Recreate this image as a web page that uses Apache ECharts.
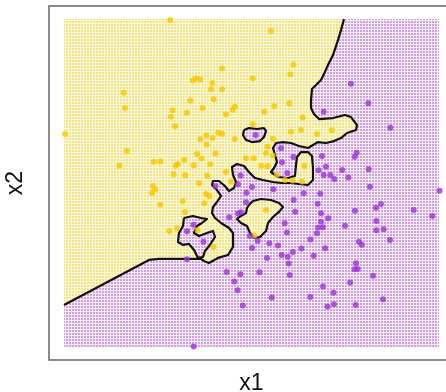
<!DOCTYPE html>
<html>
<head>
<meta charset="utf-8">
<script src="https://cdn.jsdelivr.net/npm/echarts@6/dist/echarts.min.js"></script>
<style>
  html, body { margin: 0; padding: 0; background: #fff; overflow: hidden; }
  #chart { width: 470px; height: 392px; }
</style>
</head>
<body>
<div id="chart"></div>
<script>
// grid of the classifier (x1, x2 extent)
const X1_RANGE = [-2.6, 4.2];
const X2_RANGE = [-2.0, 2.9];

// training points, class 0 (gold)
const CLASS0 = [
  [-0.673, 2.885], [0.265, 2.163], [-0.266, 1.984], [-0.207, 2.014], [-0.129, 1.999],
  [0.089, 1.944], [0.065, 1.850], [0.265, 1.850], [-1.518, 1.799], [0.114, 1.702],
  [-0.310, 1.678], [-1.494, 1.570], [-0.085, 1.570], [-0.629, 1.536], [-0.660, 1.440],
  [-0.373, 1.500], [0.501, 1.593], [0.461, 1.544], [0.337, 1.478], [-0.587, 1.299],
  [-2.582, 1.182], [0.201, 1.201], [0.265, 1.186], [-0.129, 1.104], [-0.020, 1.160],
  [0.096, 1.122], [-0.013, 1.025], [0.497, 1.107], [-1.458, 0.928], [-0.188, 0.883],
  [0.147, 0.891], [-1.597, 0.708], [-0.972, 0.767], [-0.854, 0.771], [-0.419, 0.794],
  [-0.538, 0.734], [-0.575, 0.708], [-0.246, 0.714], [-0.107, 0.816], [0.053, 0.729],
  [0.700, 0.819], [-0.611, 0.581], [-0.401, 0.565], [-0.003, 0.559], [0.337, 0.619],
  [1.153, 2.721], [1.561, 2.217], [1.503, 2.075], [0.822, 2.016], [1.213, 1.600],
  [1.485, 1.641], [1.032, 1.515], [1.728, 1.431], [0.822, 1.328], [1.697, 1.242],
  [1.516, 1.215], [1.987, 1.182], [2.254, 1.237], [1.190, 1.112], [1.090, 0.992],
  [1.063, 0.898], [1.184, 0.861], [0.840, 0.819], [0.978, 0.708], [1.093, 0.701],
  [1.757, 0.704], [1.262, 0.570], [1.407, 0.495], [1.543, 0.487], [1.715, 0.472],
  [-0.992, 0.405], [-0.945, 0.357], [-1.004, 0.301], [-0.152, 0.446], [-0.025, 0.286],
  [0.035, 0.253], [-0.448, 0.181], [-0.056, 0.147], [-0.854, 0.124], [-0.406, 0.017],
  [-0.691, -0.267], [-0.551, -0.227], [-0.179, -0.252], [0.111, -0.502], [1.063, 0.047],
  [0.851, -0.334], [0.428, 0.469]
];

// training points, class 1 (purple)
const CLASS1 = [
  [2.604, 1.933], [2.918, 1.641], [2.109, 1.515], [3.317, 1.276], [0.876, 1.167],
  [1.335, 0.968], [1.353, 0.759], [1.558, 0.838], [2.078, 0.853], [2.707, 0.903],
  [2.671, 0.843], [2.151, 0.694], [2.015, 0.640], [2.444, 0.644], [2.925, 0.655],
  [2.555, 0.532], [1.449, 0.599], [2.109, 0.570], [2.229, 0.570], [2.301, 0.510],
  [4.210, 0.335], [3.741, 0.047], [4.078, -0.043], [2.948, 0.395], [2.047, 0.289],
  [1.746, 0.296], [1.565, 0.196], [1.195, 0.356], [0.700, 0.162], [0.809, 0.390],
  [3.057, 0.081], [3.148, 0.136], [2.676, 0.036], [1.592, 0.021], [2.000, 0.141],
  [2.060, -0.003], [2.192, -0.077], [2.060, -0.128], [1.402, -0.152], [3.063, -0.118],
  [3.197, -0.242], [3.063, -0.257], [2.009, -0.215], [2.096, -0.212], [1.987, -0.301],
  [2.495, -0.189], [1.443, -0.289], [3.311, -0.402], [2.749, -0.427], [2.798, -0.472],
  [0.773, -0.342], [0.912, -0.412], [1.870, -0.394], [1.123, -0.451], [1.280, -0.484],
  [0.809, -0.521], [1.706, -0.529], [2.136, -0.525], [1.549, -0.581], [1.347, -0.626],
  [1.456, -0.651], [1.928, -0.636], [1.081, -0.670], [1.474, -0.753], [2.695, -0.750],
  [2.725, -0.835], [2.667, -0.839], [0.945, -0.884], [1.494, -0.924], [3.003, -0.935],
  [2.589, -1.039], [2.096, -1.099], [2.287, -1.189], [1.168, -1.263], [1.866, -1.253],
  [3.184, -1.287], [0.642, -1.383], [2.296, -1.362], [2.178, -1.395], [2.689, -1.373],
  [0.147, 0.401], [0.602, 0.562], [0.555, 0.432], [0.709, 0.305], [0.397, -0.061],
  [0.555, -0.006], [0.609, 0.014], [-0.252, -0.173], [-0.370, -0.270], [-0.071, -0.428],
  [-0.370, -0.690], [0.350, -0.880], [0.597, -0.914], [0.488, -1.024], [0.546, -1.153],
  [-0.248, -1.996]
];

// decision boundary, from the top edge down to the left edge
const MAIN_BOUNDARY = [
  [2.477, 2.900], [2.423, 2.736], [2.368, 2.586], [2.278, 2.362], [2.187, 2.213],
  [2.114, 2.078], [2.060, 1.989], [1.897, 1.854], [1.879, 1.690], [1.879, 1.570],
  [1.933, 1.481], [2.024, 1.406], [2.278, 1.421], [2.495, 1.466], [2.604, 1.436],
  [2.713, 1.316], [2.695, 1.242], [2.531, 1.197], [2.423, 1.122], [2.296, 1.077],
  [2.151, 1.048], [2.006, 1.062], [1.824, 0.973], [1.661, 1.003], [1.516, 1.048],
  [1.371, 1.062], [1.244, 1.048], [1.190, 0.973], [1.226, 0.868], [1.262, 0.764],
  [1.208, 0.674], [1.153, 0.614], [1.280, 0.540], [1.462, 0.525], [1.588, 0.555],
  [1.607, 0.719], [1.625, 0.838], [1.697, 0.913], [1.824, 0.913], [1.897, 0.853],
  [1.915, 0.674], [1.915, 0.495], [1.824, 0.420], [1.661, 0.435], [1.516, 0.450],
  [1.335, 0.450], [1.190, 0.465], [1.008, 0.495], [0.863, 0.525], [0.754, 0.614],
  [0.664, 0.704], [0.537, 0.734], [0.446, 0.689], [0.464, 0.570], [0.519, 0.465],
  [0.482, 0.375], [0.392, 0.330], [0.319, 0.405], [0.210, 0.480], [0.102, 0.480],
  [0.084, 0.420], [0.174, 0.345], [0.247, 0.256], [0.174, 0.166], [0.102, 0.091],
  [0.084, 0.002], [0.138, -0.073], [0.247, -0.148], [0.392, -0.222], [0.464, -0.297],
  [0.464, -0.506], [0.374, -0.626], [0.192, -0.670], [0.029, -0.745], [-0.062, -0.715],
  [-0.116, -0.685], [-0.877, -0.685], [-1.059, -0.700], [-2.600, -1.373]
];

// purple pockets inside the gold region
const ISLAND_P1 = [
  [0.664, 1.242], [0.754, 1.272], [0.899, 1.257], [1.026, 1.272], [1.063, 1.227],
  [1.026, 1.137], [0.954, 1.077], [0.809, 1.062], [0.700, 1.092], [0.646, 1.167]
];
const ISLAND_P2 = [
  [-0.424, -0.073], [-0.261, -0.043], [-0.116, -0.073], [-0.007, -0.088], [-0.098, -0.148],
  [-0.188, -0.192], [-0.243, -0.297], [-0.152, -0.342], [-0.007, -0.297], [0.102, -0.267],
  [0.138, -0.357], [0.047, -0.476], [-0.043, -0.566], [-0.080, -0.656], [-0.170, -0.670],
  [-0.243, -0.551], [-0.333, -0.461], [-0.442, -0.476], [-0.533, -0.431], [-0.515, -0.297],
  [-0.442, -0.192]
];

// gold pocket inside the purple region
const ISLAND_Y1 = [
  [0.754, 0.121], [0.827, 0.181], [0.972, 0.211], [1.153, 0.196], [1.298, 0.151],
  [1.371, 0.091], [1.298, 0.017], [1.190, -0.058], [1.099, -0.148], [1.063, -0.267],
  [0.954, -0.357], [0.845, -0.372], [0.773, -0.297], [0.718, -0.192], [0.609, -0.148],
  [0.537, -0.088], [0.609, -0.043], [0.700, 0.002], [0.718, 0.076]
];

const X_LABEL = "x1";
const Y_LABEL = "x2";

function dotPattern(dot, gap) {
  const c = document.createElement("canvas");
  c.width = 3;
  c.height = 3;
  const ctx = c.getContext("2d");
  ctx.fillStyle = gap;
  ctx.fillRect(0, 0, 3, 3);
  ctx.fillStyle = dot;
  ctx.fillRect(0, 0, 2, 2);
  return { image: c, repeat: "repeat" };
}

const GOLD_FILL = dotPattern("#f6e37c", "#fffbe2");
const PURPLE_FILL = dotPattern("#d39fe4", "#f8eefb");

function regionSeries(points, fill, z) {
  return {
    type: "custom",
    coordinateSystem: "cartesian2d",
    data: [[points[0][0], points[0][1]]],
    silent: true,
    z: z,
    renderItem: (params, api) => ({
      type: "polygon",
      shape: { points: points.map((p) => api.coord(p)) },
      style: { fill: fill, stroke: null },
    }),
  };
}

function lineSeries(points, closed) {
  return {
    type: "line",
    data: closed ? points.concat([points[0]]) : points,
    symbol: "none",
    silent: true,
    z: 5,
    lineStyle: { color: "#111", width: 2.2, join: "round" },
  };
}

const pad1 = (X1_RANGE[1] - X1_RANGE[0]) * 0.04;
const pad2 = (X2_RANGE[1] - X2_RANGE[0]) * 0.04;

const fullGrid = [
  [X1_RANGE[0], X2_RANGE[1]], [X1_RANGE[1], X2_RANGE[1]],
  [X1_RANGE[1], X2_RANGE[0]], [X1_RANGE[0], X2_RANGE[0]]
];
const goldRegion = [[X1_RANGE[0], X2_RANGE[1]]].concat(MAIN_BOUNDARY);

const chart = echarts.init(document.getElementById("chart"));

chart.setOption({
  animation: false,
  grid: {
    show: true,
    left: 49,
    top: 6,
    width: 405,
    height: 354,
    containLabel: false,
    outerBoundsMode: "none",
    borderColor: "#666",
    borderWidth: 1.5,
    backgroundColor: "transparent",
  },
  xAxis: {
    type: "value",
    min: X1_RANGE[0] - pad1,
    max: X1_RANGE[1] + pad1,
    name: X_LABEL,
    nameLocation: "middle",
    nameGap: 12,
    nameTextStyle: { fontSize: 23, color: "#111", fontFamily: "Liberation Sans" },
    axisLine: { show: false },
    axisTick: { show: false },
    axisLabel: { show: false },
    splitLine: { show: false },
  },
  yAxis: {
    type: "value",
    min: X2_RANGE[0] - pad2,
    max: X2_RANGE[1] + pad2,
    name: Y_LABEL,
    nameLocation: "middle",
    nameGap: 22,
    nameTextStyle: { fontSize: 23, color: "#111", fontFamily: "Liberation Sans" },
    axisLine: { show: false },
    axisTick: { show: false },
    axisLabel: { show: false },
    splitLine: { show: false },
  },
  series: [
    regionSeries(fullGrid, PURPLE_FILL, 1),
    regionSeries(goldRegion, GOLD_FILL, 2),
    regionSeries(ISLAND_P1, PURPLE_FILL, 3),
    regionSeries(ISLAND_P2, PURPLE_FILL, 3),
    regionSeries(ISLAND_Y1, GOLD_FILL, 3),
    lineSeries(MAIN_BOUNDARY, false),
    lineSeries(ISLAND_P1, true),
    lineSeries(ISLAND_P2, true),
    lineSeries(ISLAND_Y1, true),
    {
      type: "scatter",
      data: CLASS0,
      symbolSize: 6,
      z: 6,
      itemStyle: { color: "#f7c500" },
    },
    {
      type: "scatter",
      data: CLASS1,
      symbolSize: 6,
      z: 6,
      itemStyle: { color: "#9a33d4" },
    },
  ],
});
</script>
</body>
</html>
